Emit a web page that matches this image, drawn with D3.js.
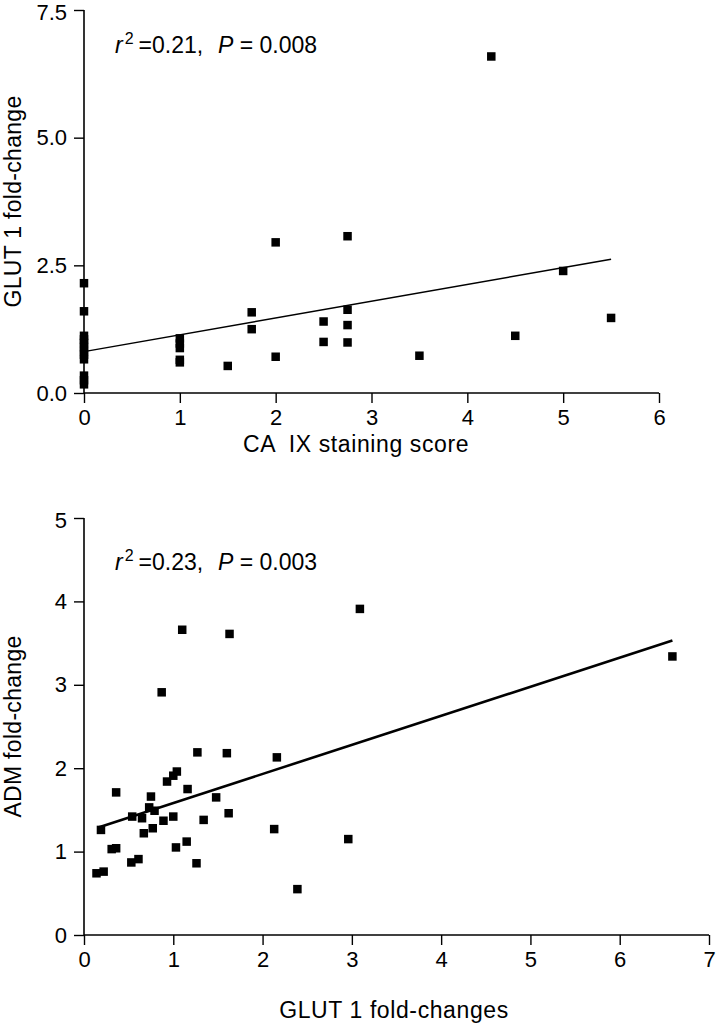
<!DOCTYPE html>
<html><head><meta charset="utf-8">
<script src="https://cdn.jsdelivr.net/npm/d3@7"></script>
<style>
html,body{margin:0;padding:0;background:#fff;}
svg text{font-family:"Liberation Sans",Arial,Helvetica,sans-serif;fill:#000;}
</style></head>
<body><svg id="c" width="717" height="1026"></svg>
<script>
// ---- Panel A: CA IX staining score vs GLUT 1 fold-change
const caixScore = [0,0,0,0,0,0,0,0,0,0,0,0, 1,1,1,1,1, 1.5, 1.75,1.75, 2,2, 2.5,2.5, 2.75,2.75,2.75,2.75, 3.5, 4.25, 4.5, 5.0, 5.5];
const glutA =     [2.15,1.6,1.12,1.05,0.98,0.9,0.82,0.75,0.66,0.34,0.25,0.17, 1.07,0.97,0.88,0.65,0.6, 0.53, 1.58,1.25, 2.95,0.71, 1.40,1.00, 3.07,1.63,1.33,0.99, 0.73, 6.59, 1.12, 2.39, 1.47];
const fitA_x = [0, 5.5];
const fitA_y = [0.81, 2.62];
const ticksAx = [0,1,2,3,4,5,6];
const ticksAy = [0,2.5,5.0,7.5];
const labelA = {r2:"0.21", p:"0.008"};

// ---- Panel B: GLUT 1 fold-changes vs ADM fold-change
const glutB = [0.14,0.22,0.19,0.31,0.36,0.36,0.53,0.61,0.54,0.65,0.67,0.77,0.73,0.79,0.75,0.89,0.93,1.00,1.04,1.00,1.03,1.15,1.16,1.26,1.27,1.34,1.48,1.60,1.62,2.13,2.16,2.39,2.96,0.87,1.10,1.63,3.09,6.59];
const admB  = [0.74,0.76,1.26,1.03,1.04,1.71,0.87,0.91,1.42,1.40,1.22,1.28,1.53,1.49,1.66,1.37,1.84,1.91,1.96,1.42,1.05,1.12,1.75,0.86,2.19,1.38,1.65,2.18,1.46,1.27,2.13,0.55,1.15,2.91,3.66,3.61,3.91,3.34];
const fitB_x = [0.16, 6.59];
const fitB_y = [1.29, 3.53];
const ticksBx = [0,1,2,3,4,5,6,7];
const ticksBy = [0,1,2,3,4,5];
const labelB = {r2:"0.23", p:"0.003"};

const svg = d3.select("#c");
const FT = 22;   // tick labels
const FX = 23;   // axis titles
const FA = 23;   // annotation

function panel(o){
  const g = svg.append("g");
  const x = d3.scaleLinear().domain(o.xd).range([o.left, o.right]);
  const y = d3.scaleLinear().domain(o.yd).range([o.bottom, o.top]);
  const xa = g.append("g").attr("transform",`translate(0,${o.bottom})`)
    .call(d3.axisBottom(x).tickValues(o.xt).tickSize(10).tickPadding(6).tickFormat(d3.format("d")));
  const ya = g.append("g").attr("transform",`translate(${o.left},0)`)
    .call(d3.axisLeft(y).tickValues(o.yt).tickSize(10).tickPadding(7).tickFormat(o.yf));
  [xa,ya].forEach(a=>{
    a.select(".domain").attr("stroke","#000").attr("stroke-width",1.6);
    a.selectAll(".tick line").attr("stroke","#000").attr("stroke-width",1.4);
    a.selectAll(".tick text").attr("font-size",FT).attr("font-family","Liberation Sans, Arial, sans-serif");
  });
  xa.select(".domain").attr("d",`M${o.left},0H${o.right}`);
  ya.select(".domain").attr("d",`M0,${o.bottom}V${o.top}`);
  // keep the top tick label inside the picture
  ya.selectAll(".tick text").attr("dy", d => d === o.yd[1] ? "0.45em" : "0.32em");
  // regression line
  g.append("line")
    .attr("x1",x(o.fx[0])).attr("y1",y(o.fy[0]))
    .attr("x2",x(o.fx[1])).attr("y2",y(o.fy[1]))
    .attr("stroke","#000").attr("stroke-width",o.lw);
  // points
  const s = 8.5;
  g.selectAll("rect.pt").data(o.xs.map((d,i)=>[d,o.ys[i]])).enter().append("rect")
    .attr("class","pt")
    .attr("x",d=>x(d[0])-s/2).attr("y",d=>y(d[1])-s/2)
    .attr("width",s).attr("height",s).attr("fill","#000");
  // annotation
  const t = g.append("text").attr("x",o.left+31).attr("y",o.annY).attr("font-size",FA).style("white-space","pre");
  t.append("tspan").attr("font-style","italic").text("r");
  t.append("tspan").attr("font-size",16).attr("dy",-9).attr("dx",2).text("2");
  t.append("tspan").attr("dy",9).attr("dx",5).text("=" + o.lab.r2 + ",  ");
  t.append("tspan").attr("font-style","italic").attr("dx",2).text("P");
  t.append("tspan").text(" = " + o.lab.p);
  // axis titles
  g.append("text").attr("x",o.xtC).attr("y",o.xtY).attr("text-anchor","middle")
    .attr("font-size",FX).attr("letter-spacing",0.6).style("white-space","pre").text(o.xtitle);
  g.append("text").attr("transform",`translate(${o.ytX},${(o.top+o.bottom)/2}) rotate(-90)`)
    .attr("text-anchor","middle").attr("font-size",FX).attr("letter-spacing",0.3).text(o.ytitle);
}

panel({xd:[0,6], yd:[0,7.5], left:84, right:659, top:10, bottom:393,
  xt:ticksAx, yt:ticksAy, yf:d3.format(".1f"),
  xs:caixScore, ys:glutA, fx:fitA_x, fy:fitA_y, lw:1.5, lab:labelA, annY:53,
  xtitle:"CA  IX staining score", xtC:356, xtY:452, ytitle:"GLUT 1 fold-change", ytX:21});

panel({xd:[0,7], yd:[0,5], left:84, right:709, top:518, bottom:935,
  xt:ticksBx, yt:ticksBy, yf:d3.format("d"),
  xs:glutB, ys:admB, fx:fitB_x, fy:fitB_y, lw:2.6, lab:labelB, annY:570,
  xtitle:"GLUT 1 fold-changes", xtC:394, xtY:1018, ytitle:"ADM fold-change", ytX:21});
</script></body></html>
